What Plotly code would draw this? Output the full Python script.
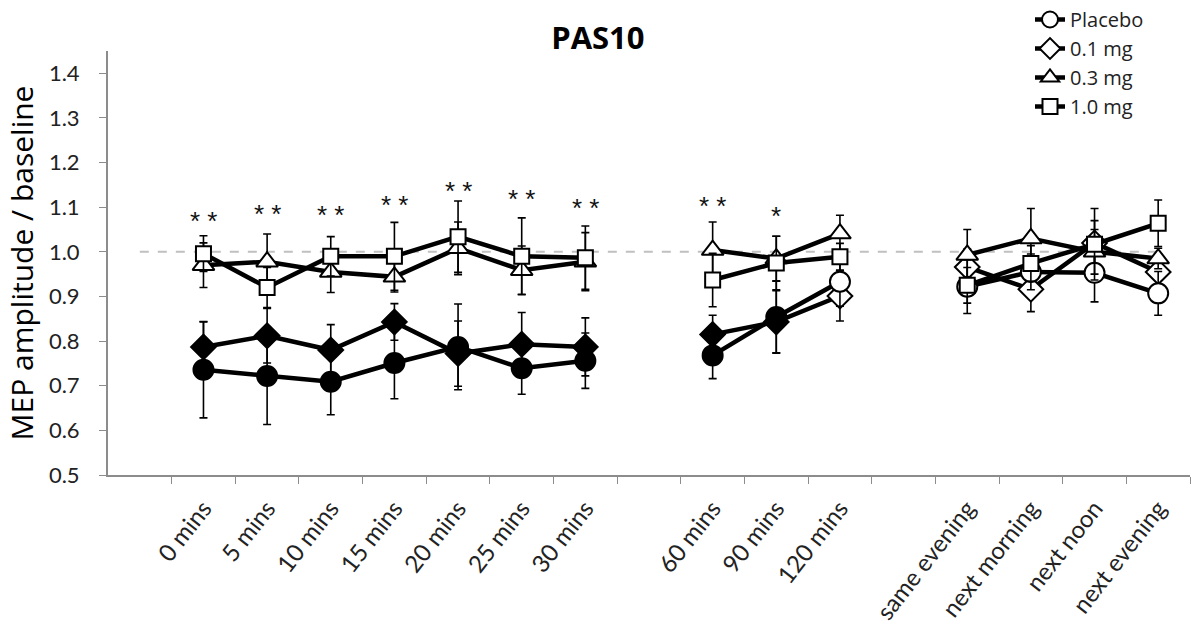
import plotly.graph_objects as go

# ---- data ----
categories = ["", "0 mins", "5 mins", "10 mins", "15 mins", "20 mins", "25 mins", "30 mins", " ",
              "60 mins", "90 mins", "120 mins", "  ",
              "same evening", "next morning", "next noon", "next evening"]

placebo = [None, 0.736, 0.722, 0.709, 0.751, 0.787, 0.739, 0.756, None,
           0.768, 0.854, 0.933, None, 0.922, 0.955, 0.953, 0.907]
placebo_err = [None, 0.108, 0.109, 0.074, 0.080, 0.096, 0.058, 0.062, None,
               0.052, 0.080, 0.055, None, 0.060, 0.040, 0.065, 0.049]

dose01 = [None, 0.787, 0.812, 0.780, 0.843, 0.772, 0.793, 0.787, None,
          0.815, 0.843, 0.901, None, 0.966, 0.916, 1.020, 0.955]
dose01_err = [None, 0.056, 0.061, 0.057, 0.041, 0.073, 0.071, 0.065, None,
              0.043, 0.070, 0.056, None, 0.040, 0.050, 0.050, 0.040]

dose03 = [None, 0.970, 0.978, 0.955, 0.944, 1.008, 0.959, 0.978, None,
          1.004, 0.985, 1.041, None, 0.993, 1.030, 1.000, 0.985]
dose03_err = [None, 0.050, 0.062, 0.046, 0.034, 0.059, 0.054, 0.065, None,
              0.063, 0.050, 0.041, None, 0.057, 0.067, 0.050, 0.023]

dose10 = [None, 0.996, 0.920, 0.990, 0.990, 1.034, 0.990, 0.987, None,
          0.937, 0.975, 0.989, None, 0.925, 0.974, 1.017, 1.064]
dose10_err = [None, 0.040, 0.045, 0.044, 0.076, 0.080, 0.086, 0.071, None,
              0.060, 0.060, 0.030, None, 0.040, 0.040, 0.080, 0.052]

# filled markers = significant decrease (placebo / 0.1 mg up to 90 mins)
filled = [False, True, True, True, True, True, True, True, False,
          True, True, False, False, False, False, False, False]

star_text = ["", "* *", "* *", "* *", "* *", "* *", "* *", "* *", "",
             "* *", "*", "", "", "", "", "", ""]
star_y = [None, 1.078, 1.093, 1.092, 1.114, 1.145, 1.127, 1.108, None,
          1.111, 1.089, None, None, None, None, None, None]

y_range = [0.5, 1.45]
x_idx = list(range(len(categories)))
FONT = "Lato, 'Open Sans', sans-serif"

fig = go.Figure()

def add_series(name, y, err, symbol, size, rank, use_fill):
    colors = ["black" if (use_fill and f) else "white" for f in filled]
    fig.add_trace(go.Scatter(
        x=x_idx, y=y, name=name, mode="lines+markers",
        line=dict(color="black", width=4.5),
        marker=dict(symbol=symbol, size=size, color=colors,
                    line=dict(color="black", width=2)),
        error_y=dict(type="data", array=err, visible=True,
                     color="black", thickness=1.6, width=4),
        connectgaps=False, legendrank=rank,
    ))

add_series("0.1 mg", dose01, dose01_err, "diamond", 19, 2, True)
add_series("Placebo", placebo, placebo_err, "circle", 20, 1, True)
add_series("0.3 mg", dose03, dose03_err, "triangle-up", 19, 3, False)
add_series("1.0 mg", dose10, dose10_err, "square", 15, 4, False)

# empty helper trace so the label axis (y2) is drawn
fig.add_trace(go.Scatter(x=[], y=[], yaxis="y2", showlegend=False, hoverinfo="skip"))

# reference line
fig.add_shape(type="line", xref="x", yref="y", x0=0, x1=16, y0=1.0, y1=1.0,
              line=dict(color="#c0c0c0", width=2, dash="dash"), layer="below")

# significance stars
for xi, t, yv in zip(x_idx, star_text, star_y):
    if t and yv is not None:
        fig.add_annotation(x=xi, y=yv, text=t, showarrow=False,
                           font=dict(family="'Liberation Sans', Arial, sans-serif", size=26, color="#111"),
                           yanchor="middle", yshift=-4)

center_vals = [i for i, c in enumerate(categories) if c.strip()]
center_text = [categories[i] for i in center_vals]

fig.update_layout(
    width=1191, height=626,
    margin=dict(l=108, r=1, t=51, b=151, autoexpand=False),
    paper_bgcolor="white", plot_bgcolor="white",
    font=dict(family=FONT, color="#222"),
    title=dict(text="<b>PAS10</b>", x=0.502, xref="container", xanchor="center",
               y=1 - 38 / 626, yanchor="middle",
               font=dict(family="'Open Sans', sans-serif", size=31, color="black")),
    showlegend=True,
    legend=dict(xref="container", yref="container", x=1030 / 1191, y=1 - 0 / 626,
                xanchor="left", yanchor="top", bgcolor="rgba(0,0,0,0)",
                font=dict(family="'Open Sans', sans-serif", size=20, color="#222"),
                tracegroupgap=0, itemwidth=30),
    xaxis=dict(range=[-0.5, 16.5], tickmode="array", tickvals=center_vals,
               ticktext=center_text, tickangle=-52,
               ticks="outside", ticklen=8, tickcolor="rgba(0,0,0,0)",
               tickfont=dict(family=FONT, size=24, color="#222"),
               showline=True, linecolor="#8c8c8c", linewidth=1.5,
               showgrid=False, zeroline=False, automargin=False,
               minor=dict(tickmode="array", tickvals=[i + 0.5 for i in range(17)],
                          ticks="outside", ticklen=7, tickcolor="#8c8c8c",
                          tickwidth=1.2, showgrid=False)),
    yaxis=dict(range=y_range, tick0=0.5, dtick=0.1, showticklabels=False,
               ticks="outside", ticklen=7, tickcolor="#8c8c8c", tickwidth=1.2,
               showline=True, linecolor="#8c8c8c", linewidth=1.5,
               showgrid=False, zeroline=False, automargin=False),
    yaxis2=dict(range=y_range, overlaying="y", side="left", anchor="x",
                tick0=0.5, dtick=0.1, tickformat=".1f",
                ticks="outside", ticklen=23, tickcolor="rgba(0,0,0,0)",
                tickfont=dict(family=FONT, size=22, color="#222"),
                showline=False, showgrid=False, zeroline=False, automargin=False,
                title=dict(text="MEP amplitude / baseline", standoff=6,
                           font=dict(family="'Open Sans', sans-serif", size=30, color="black"))),
)

fig.write_html("out.html")
